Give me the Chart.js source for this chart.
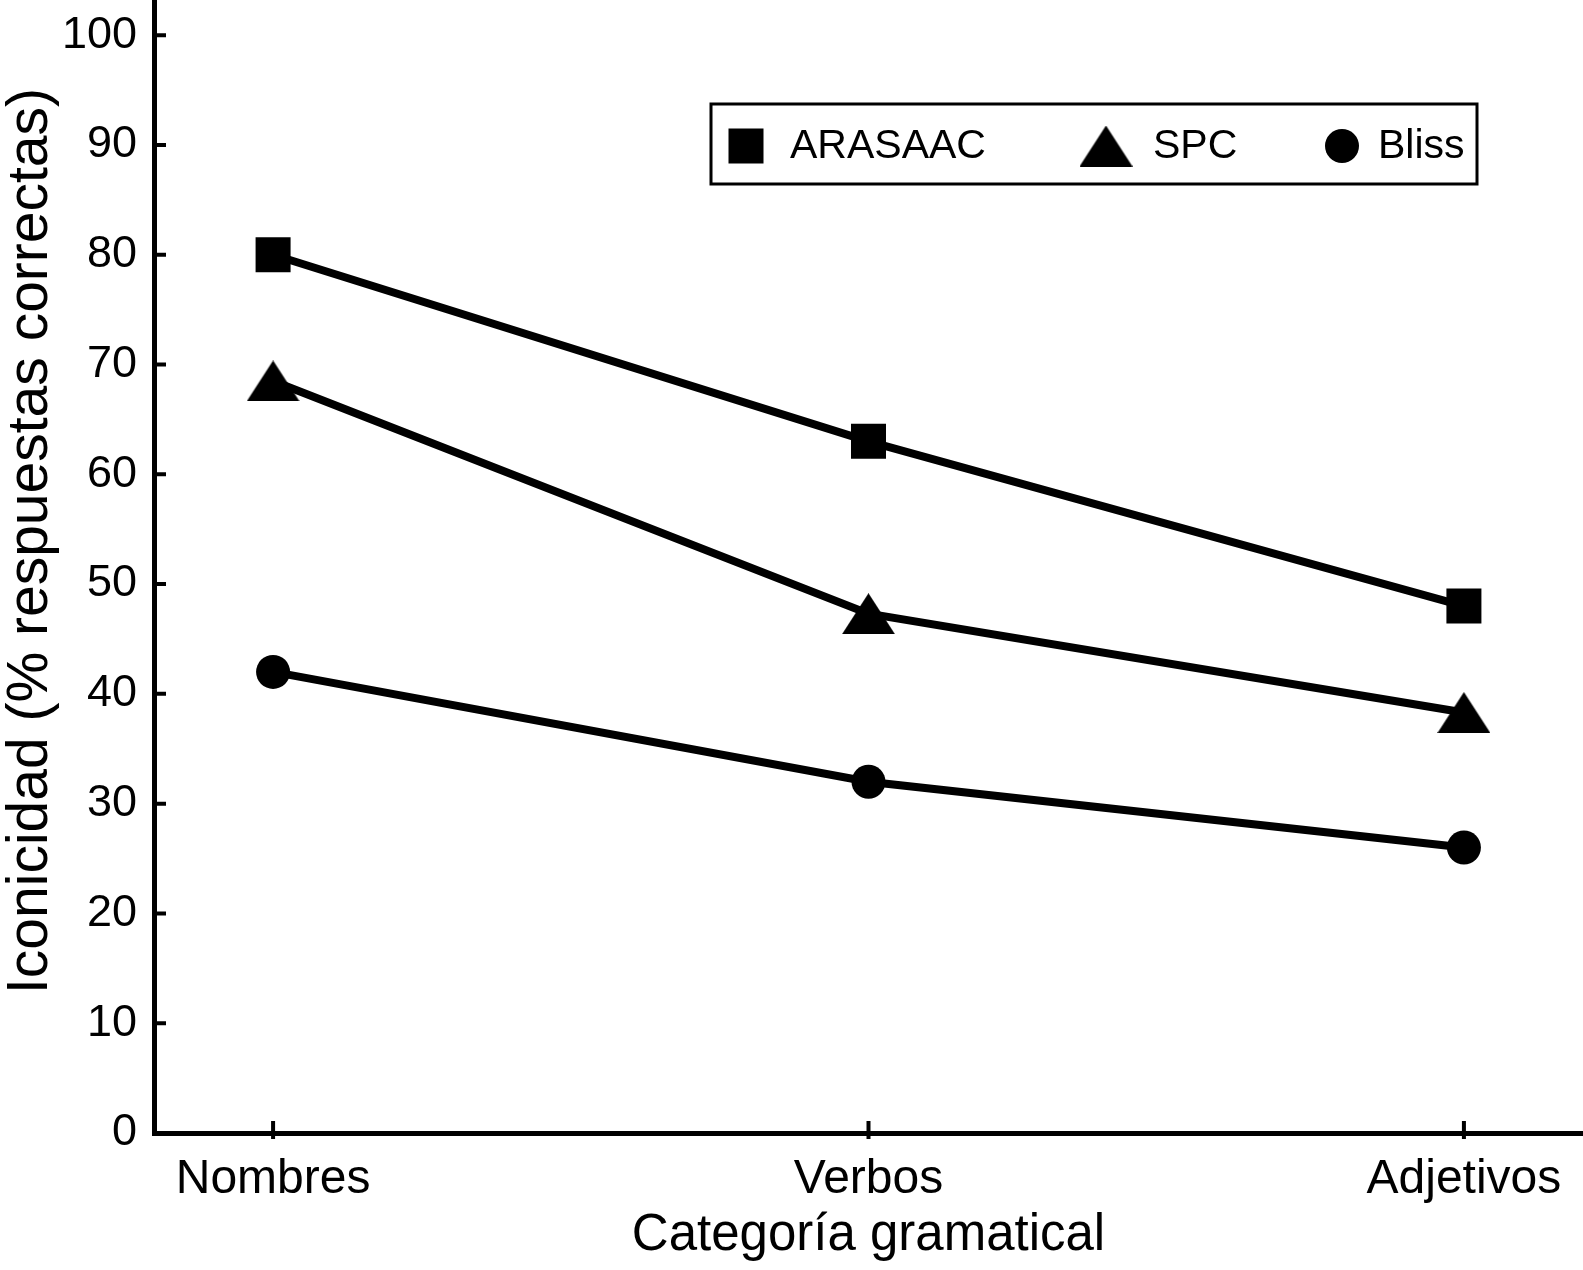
<!DOCTYPE html>
<html>
<head>
<meta charset="utf-8">
<script src="https://cdn.jsdelivr.net/npm/chart.js@4"></script>
<style>
    html, body { margin: 0; padding: 0; background: #fff; }
    #wrap { width: 1583px; height: 1270px; position: relative; }
</style>
</head>
<body>
<div id="wrap"><canvas id="myChart"></canvas></div>
<script>
// data
const categories = ['Nombres', 'Verbos', 'Adjetivos'];
const seriesNames = ['ARASAAC', 'SPC', 'Bliss'];
const arasaacValues = [80, 63, 48];
const spcValues = [68.5, 47.3, 38.3];
const blissValues = [42, 32, 26];
const yTicks = [0, 10, 20, 30, 40, 50, 60, 70, 80, 90, 100];

const xTitle = 'Categoría gramatical';
const yTitle = 'Iconicidad (% respuestas correctas)';

const FONT = "'Liberation Sans', Arial, Helvetica, sans-serif";

// flat triangle marker, centred on its bounding box like the original
function triangleImage(w, h) {
    const c = document.createElement('canvas');
    c.width = w;
    c.height = h;
    const g = c.getContext('2d');
    g.fillStyle = '#000';
    g.beginPath();
    g.moveTo(w / 2, 0);
    g.lineTo(w, h);
    g.lineTo(0, h);
    g.closePath();
    g.fill();
    return c;
}
const triangle = triangleImage(53, 41);

function toPoints(values) {
    return values.map((v, i) => ({ x: i, y: v }));
}

function makeDataset(label, values, pointStyle, radius) {
    return {
        label: label,
        data: toPoints(values),
        borderColor: '#000',
        borderWidth: 8,
        backgroundColor: '#000',
        pointStyle: pointStyle,
        pointRadius: radius,
        pointHoverRadius: radius,
        pointBackgroundColor: '#000',
        pointBorderWidth: 0,
        tension: 0,
        fill: false
    };
}

// no extra room around the axes, the plot runs to the page edges
function noScalePadding(scale) {
    scale.paddingTop = 0;
    scale.paddingBottom = 0;
    scale.paddingLeft = 0;
    scale.paddingRight = 0;
}

// tick marks point into the plot area
const innerTicks = {
    id: 'innerTicks',
    afterDraw(chart) {
        const { ctx, chartArea, scales: { x, y } } = chart;
        ctx.save();
        ctx.strokeStyle = '#000';
        ctx.lineWidth = 4;
        ctx.beginPath();
        y.ticks.forEach(t => {
            const py = y.getPixelForValue(t.value);
            ctx.moveTo(chartArea.left - 2, py);
            ctx.lineTo(chartArea.left + 12, py);
        });
        x.ticks.forEach(t => {
            const px = x.getPixelForValue(t.value);
            ctx.moveTo(px, chartArea.bottom - 12);
            ctx.lineTo(px, chartArea.bottom + 6);
        });
        ctx.stroke();
        ctx.restore();
    }
};

// y title sits a bit above the middle of the axis in the original
const sideTitle = {
    id: 'sideTitle',
    afterDraw(chart, args, opts) {
        const ctx = chart.ctx;
        ctx.save();
        ctx.fillStyle = '#000';
        ctx.font = opts.fontSize + 'px ' + FONT;
        ctx.textAlign = 'center';
        ctx.textBaseline = 'middle';
        ctx.translate(opts.x, opts.y);
        ctx.rotate(-Math.PI / 2);
        ctx.fillText(opts.text, 0, 0);
        ctx.restore();
    }
};

// boxed legend inside the plot, one row
const boxLegend = {
    id: 'boxLegend',
    afterDraw(chart, args, opts) {
        const ctx = chart.ctx;
        ctx.save();
        ctx.strokeStyle = '#000';
        ctx.lineWidth = opts.border;
        ctx.strokeRect(opts.left, opts.top, opts.right - opts.left, opts.bottom - opts.top);
        ctx.fillStyle = '#000';
        ctx.font = opts.fontSize + 'px ' + FONT;
        ctx.textBaseline = 'middle';
        ctx.textAlign = 'left';
        chart.data.datasets.forEach((ds, i) => {
            Chart.helpers.drawPoint(ctx, {
                pointStyle: ds.pointStyle,
                radius: ds.pointRadius,
                rotation: 0,
                borderWidth: 0
            }, opts.markerX[i], opts.rowY);
            ctx.fillText(ds.label, opts.textX[i], opts.rowY + 1);
        });
        ctx.restore();
    }
};

new Chart(document.getElementById('myChart'), {
    type: 'line',
    data: {
        datasets: [
            makeDataset(seriesNames[0], arasaacValues, 'rect', 24.75),
            makeDataset(seriesNames[1], spcValues, triangle, 26),
            makeDataset(seriesNames[2], blissValues, 'circle', 17)
        ]
    },
    options: {
        responsive: true,
        maintainAspectRatio: false,
        animation: false,
        layout: { padding: 0, autoPadding: false },
        plugins: {
            legend: { display: false },
            tooltip: { enabled: false },
            sideTitle: { text: yTitle, x: 31, y: 541, fontSize: 57 },
            boxLegend: {
                left: 711, top: 104, right: 1477, bottom: 184, border: 3,
                rowY: 146, fontSize: 41,
                markerX: [746, 1106, 1342],
                textX: [790, 1153, 1378]
            }
        },
        scales: {
            x: {
                type: 'linear',
                min: -0.2,
                max: 2.2,
                afterFit(scale) {
                    scale.height = 137;
                    noScalePadding(scale);
                },
                afterBuildTicks(scale) {
                    scale.ticks = categories.map((c, i) => ({ value: i }));
                },
                grid: { drawOnChartArea: false, drawTicks: false },
                border: { display: true, color: '#000', width: 5 },
                ticks: {
                    color: '#000',
                    padding: 18,
                    maxRotation: 0,
                    font: { family: FONT, size: 48 },
                    callback: (v) => categories[v]
                },
                title: {
                    display: true,
                    text: xTitle,
                    color: '#000',
                    font: { family: FONT, size: 51, lineHeight: 1.2 },
                    padding: { top: 0, bottom: 3 }
                }
            },
            y: {
                min: 0,
                max: 103.2,
                afterFit(scale) {
                    scale.width = 154;
                    noScalePadding(scale);
                },
                afterBuildTicks(scale) {
                    scale.ticks = yTicks.map(v => ({ value: v }));
                },
                grid: { drawOnChartArea: false, drawTicks: false },
                border: { display: true, color: '#000', width: 5 },
                ticks: {
                    color: '#000',
                    padding: 17,
                    font: { family: FONT, size: 45 }
                },
                title: { display: false }
            }
        }
    },
    plugins: [innerTicks, sideTitle, boxLegend]
});
</script>
</body>
</html>
